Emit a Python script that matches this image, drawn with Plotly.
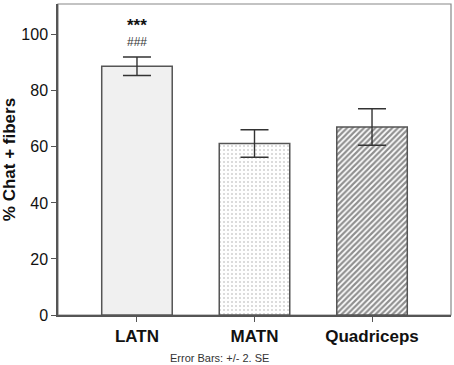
import plotly.graph_objects as go

categories = ["LATN", "MATN", "Quadriceps"]
means = [88.8, 61.2, 67.1]
errors = [3.3, 4.9, 6.5]
y_ticks = [0, 20, 40, 60, 80, 100]

fills = ["#f0f0f0", "#ffffff", "#ffffff"]
pat_shapes = ["", ".", "/"]
pat_fg = ["#f0f0f0", "#a8a8a8", "#202020"]
pat_size = [4, 4, 4]
pat_sol = [0.2, 0.22, 0.55]

fig = go.Figure()
for i, c in enumerate(categories):
    fig.add_trace(go.Bar(
        x=[c], y=[means[i]], width=0.6,
        marker=dict(color=fills[i], line=dict(color="#555555", width=1.5),
                    pattern=dict(shape=pat_shapes[i], fgcolor=pat_fg[i], bgcolor=fills[i],
                                 size=pat_size[i], solidity=pat_sol[i])),
        error_y=dict(type="data", array=[errors[i]], color="#333333", thickness=1.4, width=14),
        showlegend=False,
    ))

fig.add_annotation(x="LATN", y=103.2, text="***", showarrow=False,
                   font=dict(family="Arial", size=17, color="#111111", weight="bold"), yanchor="middle")
fig.add_annotation(x="LATN", y=97.3, text="###", showarrow=False,
                   font=dict(family="Arial", size=12, color="#333333"), yanchor="middle")
fig.add_annotation(xref="paper", yref="paper", x=0.412, y=-0.138, xanchor="center", yanchor="middle",
                   text="Error Bars: +/- 2. SE", showarrow=False,
                   font=dict(family="Arial", size=11, color="#333333"))

fig.add_shape(type="rect", xref="paper", yref="paper", x0=0, y0=0, x1=1, y1=1,
              line=dict(color="#888888", width=1.2), layer="below")

fig.update_layout(
    width=454, height=365,
    margin=dict(l=53, r=3, t=4, b=50),
    plot_bgcolor="white", paper_bgcolor="white",
    font=dict(family="Arial", color="#111111"),
)
fig.update_xaxes(range=[-0.672, 2.672], showline=True, linecolor="#555555", linewidth=1.5,
                 ticks="outside", ticklen=5, tickcolor="#555555",
                 tickfont=dict(family="Arial", size=17, color="#111111", weight="bold"),
                 showgrid=False, zeroline=False)
fig.update_yaxes(range=[0, 111], tickvals=y_ticks, showline=True, linecolor="#555555", linewidth=1.5,
                 ticks="outside", ticklen=5, tickcolor="#555555",
                 tickfont=dict(family="Arial", size=16, color="#111111"),
                 title=dict(text="% Chat + fibers", font=dict(family="Arial", size=17, weight="bold"), standoff=6),
                 showgrid=False, zeroline=False)

fig.write_html("out.html", config={"displayModeBar": False},
               post_script="document.body.style.margin='0';document.body.style.padding='0';")
